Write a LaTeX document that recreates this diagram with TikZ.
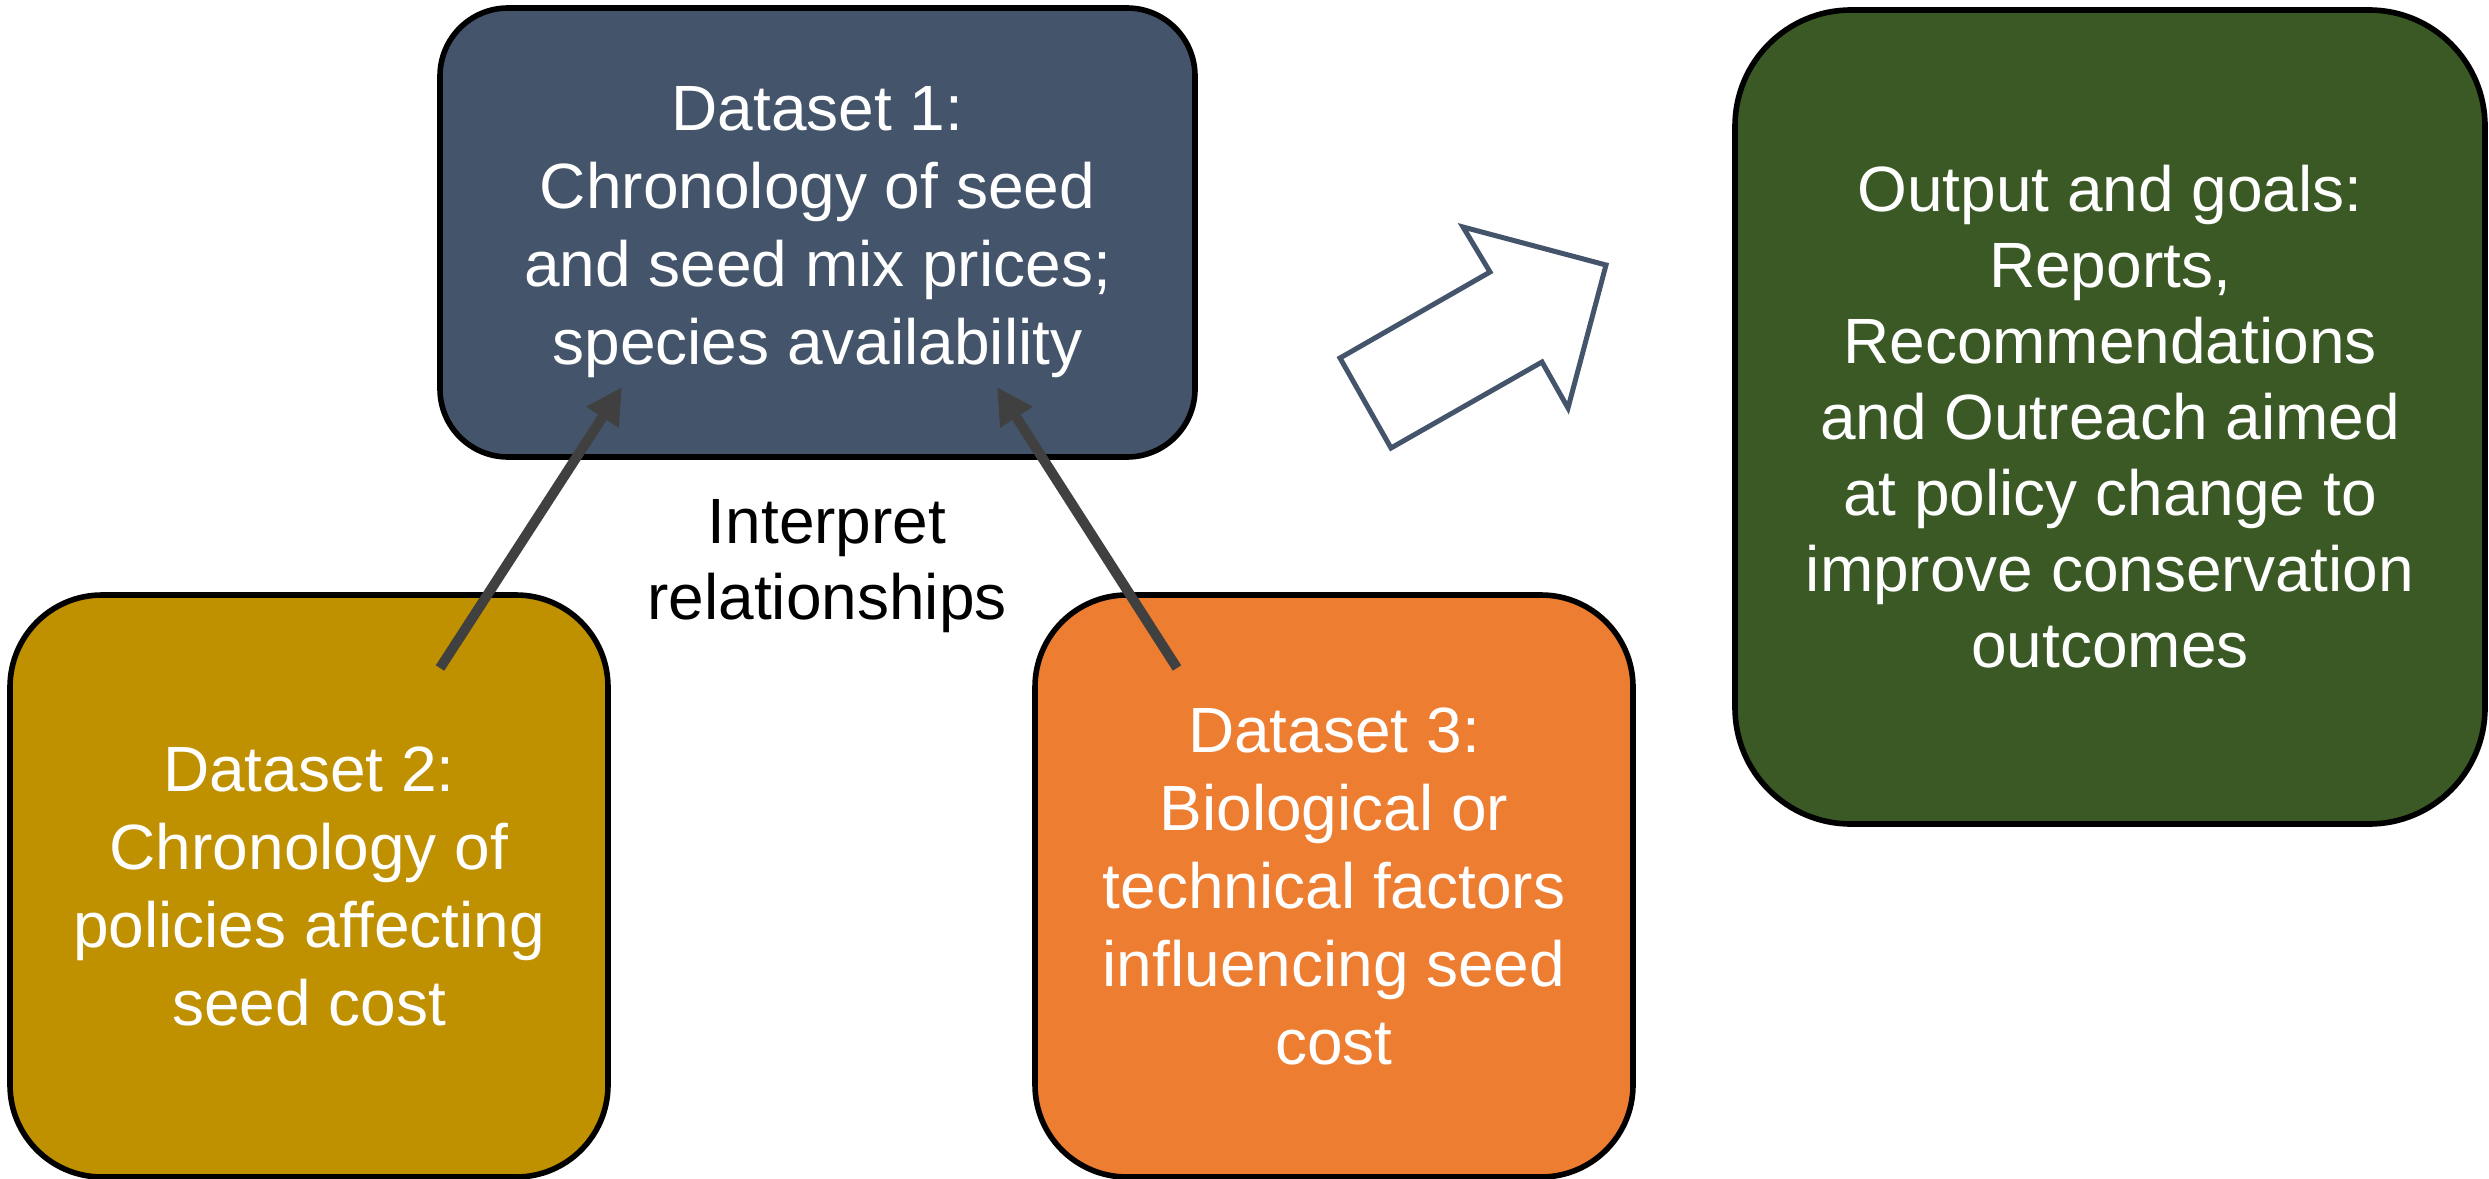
\documentclass[tikz,border=0pt]{standalone}
\usepackage{fontspec}
\setmainfont{Liberation Sans}
\usetikzlibrary{arrows.meta}
\definecolor{slateblue}{HTML}{44546A}
\definecolor{darkgold}{HTML}{BF9000}
\definecolor{warmorange}{HTML}{ED7D31}
\definecolor{forest}{HTML}{3A5925}
\definecolor{arrowgray}{HTML}{404040}

\begin{document}
\begin{tikzpicture}[x=0.5pt,y=-0.5pt,
  box/.style={draw=black, line width=2.8pt, text=white, align=center,
    inner sep=0pt, font=\fontsize{32}{39}\selectfont},
  link/.style={draw=arrowgray, line width=5pt, line cap=butt,
    -{Triangle[length=18pt,width=18pt]}},
  label/.style={align=center, text=black, font=\fontsize{32}{38}\selectfont}]
\useasboundingbox (0,0) rectangle (2489,1178);

% data sets
\node[box, fill=slateblue, rounded corners=34pt,
  minimum width=377.5pt, minimum height=224.5pt] (d1) at (817.5,232.5)
  {Dataset 1:\\Chronology of seed\\and seed mix prices;\\species availability};
\node[box, fill=darkgold, rounded corners=46pt,
  minimum width=299pt, minimum height=291pt] (d2) at (309,886)
  {Dataset 2:\\Chronology of\\policies affecting\\seed cost};
\node[box, fill=warmorange, rounded corners=46pt,
  minimum width=299pt, minimum height=291pt] (d3) at (1334,886)
  {Dataset 3:\\Biological or\\technical factors\\influencing seed\\cost};

% outcome
\node[box, fill=forest, rounded corners=58pt,
  minimum width=375pt, minimum height=407pt,
  font=\fontsize{32}{38}\selectfont] (out) at (2110,417)
  {Output and goals:\\Reports,\\Recommendations\\and Outreach aimed\\at policy change to\\improve conservation\\outcomes};

\node[label] (interp) at (827,566) {Interpret\\relationships};

% links into dataset 1
\coordinate (s2) at (440,668);
\coordinate (t2) at (622,387);
\coordinate (s3) at (1177,668);
\coordinate (t3) at (997,387);
\draw[link] (s2) -- (t2);
\draw[link] (s3) -- (t3);

% block arrow towards the outcome
\draw[slateblue, line width=2.5pt, fill=white, line join=miter]
  (1340,358) -- (1490,272) -- (1463,227) -- (1606,265) -- (1568,408)
  -- (1542,362) -- (1391,448) -- cycle;
\end{tikzpicture}
\end{document}
